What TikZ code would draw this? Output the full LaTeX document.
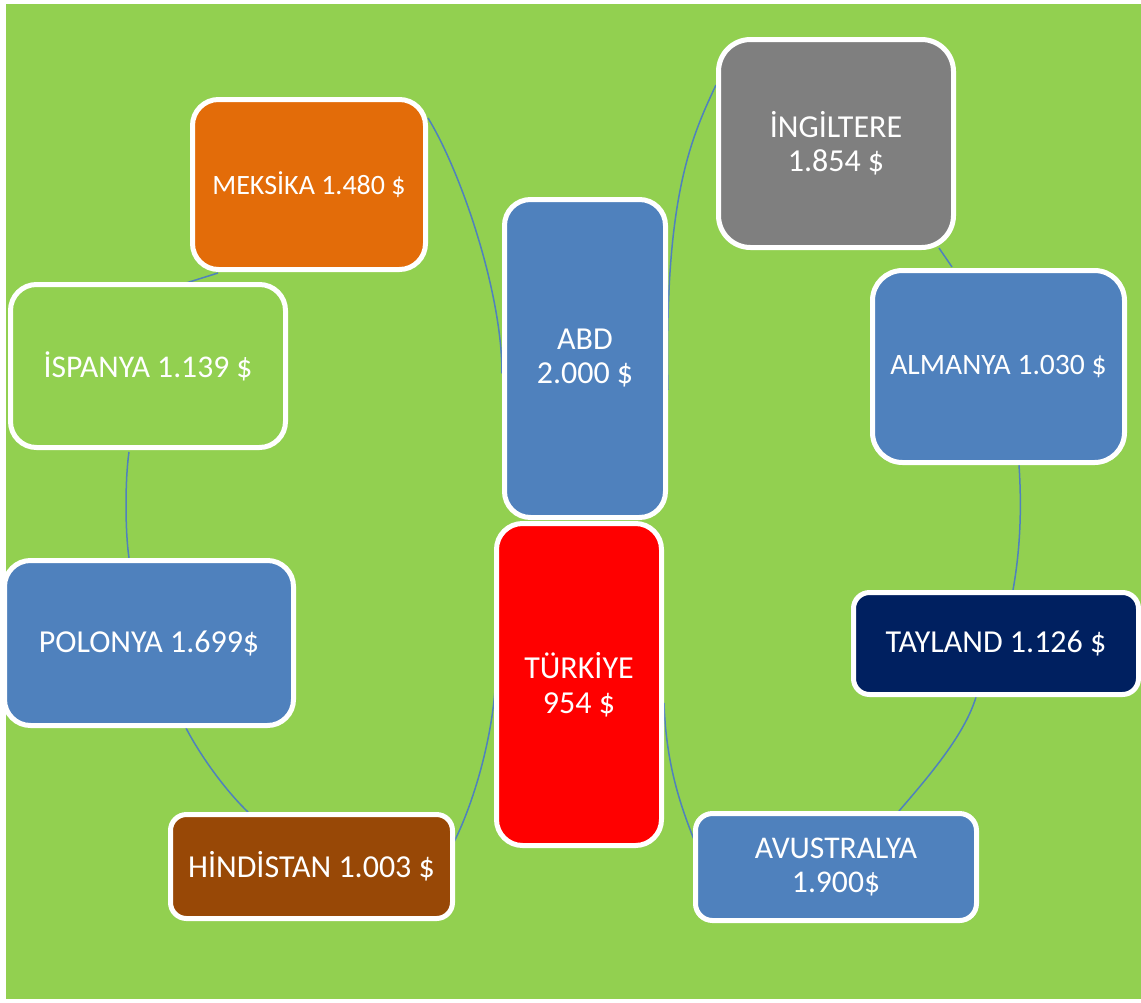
\documentclass[tikz,border=0pt]{standalone}
\usepackage{fontspec}
\setmainfont{Carlito}
\usepackage{xcolor}
\definecolor{bggreen}{HTML}{92D050}
\definecolor{linkblue}{HTML}{4F81BD}
\definecolor{boxblue}{HTML}{4F81BD}
\definecolor{mexorange}{HTML}{E36C09}
\definecolor{inggray}{HTML}{7F7F7F}
\definecolor{taynavy}{HTML}{002060}
\definecolor{turred}{HTML}{FF0000}
\definecolor{hinbrown}{HTML}{984806}
\usetikzlibrary{calc}
\pgfdeclarelayer{back}
\pgfdeclarelayer{links}
\pgfsetlayers{back,links,main}

\begin{document}
\begin{tikzpicture}[x=0.5pt,y=-0.5pt,
  box/.style={draw=white,line width=2.5pt,text=white,align=center,inner sep=0pt,
    font=\fontsize{16}{17}\selectfont},
  link/.style={draw=linkblue,line width=0.75pt}]
  \useasboundingbox (0,0) rectangle (1141,1002);

  % Background
  \begin{pgfonlayer}{back}
    \fill[bggreen] (6,4) rectangle (1141,999);
  \end{pgfonlayer}

  % Countries
  \node[box,fill=mexorange,rounded corners=13pt,minimum width=116.5pt,minimum height=85pt,font=\fontsize{14}{17}\selectfont] (mex) at (309,184.5) {MEKSİKA 1.480 \$};
  \node[box,fill=inggray,rounded corners=16pt,minimum width=117.5pt,minimum height=104pt] (ing) at (836,143.5) {İNGİLTERE\\1.854 \$};
  \node[box,fill=boxblue,rounded corners=13pt,minimum width=80.5pt,minimum height=159pt] (abd) at (585,358.5) {ABD\\2.000 \$};
  \node[box,fill=boxblue,rounded corners=15pt,minimum width=126pt,minimum height=96pt,font=\fontsize{14.8}{17}\selectfont] (alm) at (998.5,366.5) {ALMANYA 1.030 \$};
  \node[box,fill=taynavy,rounded corners=8pt,minimum width=142.5pt,minimum height=51pt] (tay) at (996,643.5) {TAYLAND 1.126 \$};
  \node[box,fill=boxblue,rounded corners=8.5pt,minimum width=140.5pt,minimum height=53.5pt,font=\fontsize{15.8}{17}\selectfont] (avu) at (836,867) {AVUSTRALYA\\1.900\$};
  \node[box,fill=turred,rounded corners=13pt,minimum width=82.5pt,minimum height=161pt,font=\fontsize{16}{17.5}\selectfont] (tur) at (579,684.5) {TÜRKİYE\\954 \$};
  \node[box,fill=hinbrown,rounded corners=8pt,minimum width=141pt,minimum height=52pt] (hin) at (311.5,866.5) {HİNDİSTAN 1.003 \$};
  \node[box,fill=boxblue,rounded corners=13pt,minimum width=144.5pt,minimum height=82.5pt] (pol) at (149,643) {POLONYA 1.699\$};
  \node[box,rounded corners=13pt,minimum width=137.5pt,minimum height=81.5pt,font=\fontsize{15.8}{17}\selectfont] (isp) at (148,366) {İSPANYA 1.139 \$};

  % Cycle links
  \begin{pgfonlayer}{links}
    \draw[link] ($(mex.north east)+(0,21)$) .. controls +(32,52) and +(0,-83) .. ($(abd.west)+(0,15)$);
    \draw[link] ($(abd.east)+(0,31.5)$) .. controls +(-4,-190) and +(-26,55) .. ($(ing.west)+(0,-58.5)$);
    \draw[link] ($(ing.south)+(103,-2)$) -- ($(alm.north)+(-46.5,-1)$);
    \draw[link] ($(alm.south)+(20.5,0)$) .. controls +(3,45) and +(7,-39) .. ($(tay.north)+(17,0)$);
    \draw[link] ($(tay.south)+(-20,0)$) .. controls +(-11,37) and +(31,-36) .. ($(avu.north)+(63,0)$);
    \draw[link] ($(tur.east)+(0,18.5)$) .. controls +(2,57) and +(-17,-42) .. ($(avu.west)+(2,-25)$);
    \draw[link] ($(tur.west)+(2,-14.5)$) .. controls +(-1,60) and +(21,-42) .. ($(hin.east)+(-1,-24.5)$);
    \draw[link] ($(pol.south)+(37,0)$) .. controls +(14,27) and +(-23,-22) .. ($(hin.north)+(-63.5,0)$);
    \draw[link] ($(pol.north)+(-20,0)$) .. controls +(-4,-28) and +(-4,28) .. ($(isp.south)+(-19,2)$);
    \draw[link] ($(isp.north)+(38,1)$) -- ($(mex.south)+(-91,1)$);
  \end{pgfonlayer}
\end{tikzpicture}
\end{document}
